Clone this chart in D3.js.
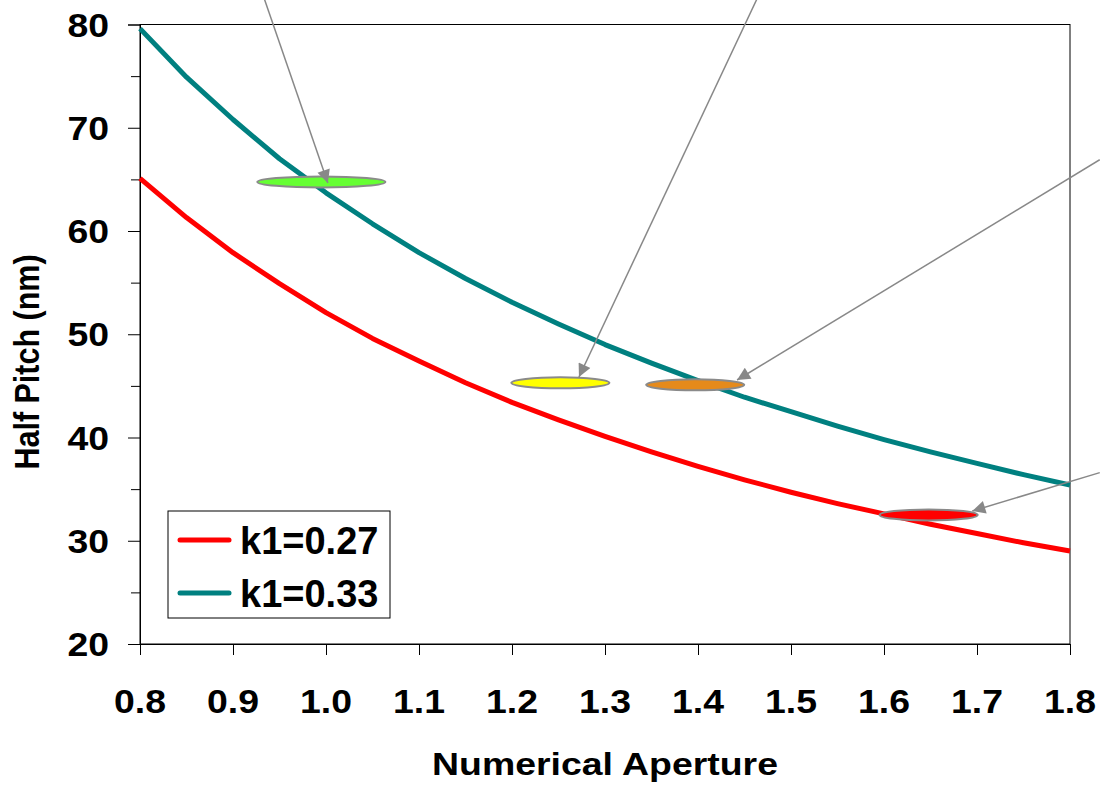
<!DOCTYPE html>
<html>
<head>
<meta charset="utf-8">
<script src="https://cdn.jsdelivr.net/npm/d3@7"></script>
<style>
    body { margin: 0; background: #fff; }
    text { font-family: "Liberation Sans", Arial, sans-serif; font-weight: bold; fill: #000; }
</style>
</head>
<body>
<svg id="chart" width="1100" height="786"></svg>
<script>

// Data
var numericalAperture = [0.80, 0.85, 0.90, 0.95, 1.00, 1.05, 1.10, 1.15, 1.20, 1.25, 1.30,
                         1.35, 1.40, 1.45, 1.50, 1.55, 1.60, 1.65, 1.70, 1.75, 1.80];
var halfPitchK027 = [65.1, 61.3, 57.9, 54.9, 52.1, 49.6, 47.4, 45.3, 43.4, 41.7, 40.1,
                     38.6, 37.2, 35.9, 34.7, 33.6, 32.6, 31.6, 30.7, 29.8, 29.0];
var halfPitchK033 = [79.6, 74.9, 70.8, 67.0, 63.7, 60.7, 57.9, 55.4, 53.1, 51.0, 49.0,
                     47.2, 45.5, 43.9, 42.5, 41.1, 39.8, 38.6, 37.5, 36.4, 35.4];
var seriesNames = ['k1=0.27', 'k1=0.33'];

var xTicks = [0.8, 0.9, 1.0, 1.1, 1.2, 1.3, 1.4, 1.5, 1.6, 1.7, 1.8];
var yTicks = [20, 30, 40, 50, 60, 70, 80];
var yMinorTicks = [25, 35, 45, 55, 65, 75];

// ellipse markers (centre NA, centre half pitch)
var markerNA = [0.995, 1.252, 1.397, 1.648];
var markerPitch = [64.75, 45.3, 45.1, 32.5];
var markerColors = ['#66ff33', '#ffff00', '#e58a1b', '#ff0000'];

// arrows pointing to the markers (from / to, in data units)
var arrowFromNA = [0.934, 1.463, 1.832, 1.832];
var arrowFromPitch = [82.4, 82.4, 66.9, 36.6];
var arrowToNA = [1.002, 1.272, 1.442, 1.695];
var arrowToPitch = [64.65, 45.86, 45.57, 32.88];


(function(){

    var svg = d3.select('#chart');

    var plotLeft = 140, plotRight = 1070, plotTop = 24.5, plotBottom = 644;
    var stretch = 1.1;

    var x = d3.scaleLinear().domain([0.8, 1.8]).range([plotLeft, plotRight]);
    var y = d3.scaleLinear().domain([20, 80]).range([plotBottom, plotTop]);

    var lineColors = ['#ff0000', '#008080'];

    // plot frame
    svg.append('rect')
        .attr('x', plotLeft).attr('y', plotTop)
        .attr('width', plotRight - plotLeft).attr('height', plotBottom - plotTop)
        .attr('fill', 'none').attr('stroke', '#000').attr('stroke-width', 1);

    // y axis
    svg.append('g').attr('transform', 'translate(' + plotLeft + ',0)')
        .call(d3.axisLeft(y).tickValues(yTicks).tickSize(12).tickFormat(''));
    svg.append('g').attr('transform', 'translate(' + plotLeft + ',0)')
        .call(d3.axisLeft(y).tickValues(yMinorTicks).tickSize(9).tickFormat(''))
        .select('.domain').remove();

    yTicks.forEach(function(v){
        svg.append('text')
            .attr('transform', 'translate(109,' + (y(v) + 12) + ') scale(' + stretch + ',1)')
            .attr('text-anchor', 'end')
            .style('font-size', '34px')
            .text(v);
    });

    // x axis
    svg.append('g').attr('transform', 'translate(0,' + plotBottom + ')')
        .call(d3.axisBottom(x).tickValues(xTicks).tickSize(11).tickFormat(''));

    xTicks.forEach(function(v){
        svg.append('text')
            .attr('transform', 'translate(' + x(v) + ',713) scale(' + stretch + ',1)')
            .attr('text-anchor', 'middle')
            .style('font-size', '34px')
            .text(d3.format('.1f')(v));
    });

    svg.selectAll('.domain, .tick line').attr('stroke', '#000').attr('stroke-width', 1);

    // axis titles
    svg.append('text')
        .attr('transform', 'translate(605,775) scale(1.17,1)')
        .attr('text-anchor', 'middle')
        .style('font-size', '32px')
        .text('Numerical Aperture');

    svg.append('text')
        .attr('transform', 'translate(39,362) scale(1.18,1) rotate(-90)')
        .attr('text-anchor', 'middle')
        .style('font-size', '30.5px')
        .text('Half Pitch (nm)');

    // series lines
    var line = d3.line()
        .x(function(d){ return x(d[0]); })
        .y(function(d){ return y(d[1]); });

    [halfPitchK027, halfPitchK033].forEach(function(values, i){
        svg.append('path')
            .datum(numericalAperture.map(function(na, j){ return [na, values[j]]; }))
            .attr('d', line)
            .attr('fill', 'none')
            .attr('stroke', lineColors[i])
            .attr('stroke-width', 5)
            .attr('stroke-linejoin', 'round');
    });

    // ellipse markers
    svg.selectAll('ellipse.marker')
        .data(markerNA)
        .enter().append('ellipse')
        .attr('class', 'marker')
        .attr('cx', function(d){ return x(d); })
        .attr('cy', function(d, i){ return y(markerPitch[i]); })
        .attr('rx', function(d, i){ return i === 0 ? 64 : 49; })
        .attr('ry', 5.5)
        .attr('fill', function(d, i){ return markerColors[i]; })
        .attr('stroke', '#8a8a8a')
        .attr('stroke-width', 2);

    // arrows
    svg.append('defs').append('marker')
        .attr('id', 'arrowhead')
        .attr('viewBox', '0 0 10 10')
        .attr('refX', 10).attr('refY', 5)
        .attr('markerUnits', 'userSpaceOnUse')
        .attr('markerWidth', 15).attr('markerHeight', 13)
        .attr('orient', 'auto')
        .append('path')
        .attr('d', 'M0,0 L10,5 L0,10 Z')
        .attr('fill', '#888');

    arrowFromNA.forEach(function(na, i){
        svg.append('line')
            .attr('x1', x(na)).attr('y1', y(arrowFromPitch[i]))
            .attr('x2', x(arrowToNA[i])).attr('y2', y(arrowToPitch[i]))
            .attr('stroke', '#888')
            .attr('stroke-width', 1.5)
            .attr('marker-end', 'url(#arrowhead)');
    });

    // legend
    var legend = svg.append('g');
    legend.append('rect')
        .attr('x', 168).attr('y', 511)
        .attr('width', 222).attr('height', 107)
        .attr('fill', '#fff').attr('stroke', '#000').attr('stroke-width', 1);

    seriesNames.forEach(function(name, i){
        var ly = 540 + i * 53;
        legend.append('line')
            .attr('x1', 180).attr('x2', 229)
            .attr('y1', ly).attr('y2', ly)
            .attr('stroke', lineColors[i])
            .attr('stroke-width', 5)
            .attr('stroke-linecap', 'round');
        legend.append('text')
            .attr('x', 240).attr('y', ly + 14)
            .style('font-size', '38px')
            .text(name);
    });

})();

</script>
</body>
</html>
